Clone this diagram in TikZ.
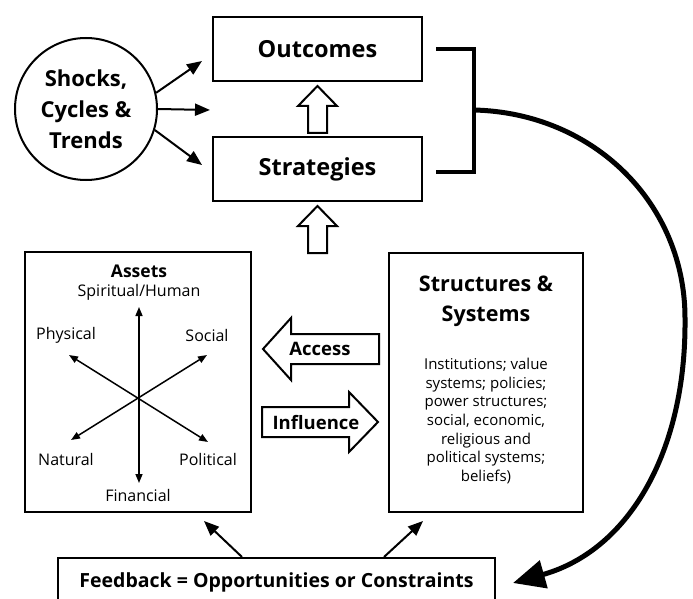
\documentclass[tikz,border=0pt]{standalone}
\usepackage{fontspec}
\setmainfont{Open Sans}
\usetikzlibrary{calc,arrows.meta}

\begin{document}
\begin{tikzpicture}[
  x=1pt, y=-1pt,
  box/.style={draw, line width=2pt, minimum width=209pt, minimum height=64pt,
              font=\bfseries\fontsize{23.5}{26}\selectfont},
  panel/.style={draw, line width=2pt},
  circ/.style={circle, draw, line width=2pt, minimum size=142pt, inner sep=0pt, align=center,
              font=\bfseries\fontsize{22}{31}\selectfont},
  lbl/.style={font=\fontsize{16}{19}\selectfont, inner sep=1pt},
  ttl/.style={font=\bfseries\fontsize{18.5}{22}\selectfont, inner sep=1pt},
  e/.style={-{Triangle[length=15pt, width=12pt]}, line width=2pt},
  dbl/.style={{Triangle[length=9pt, width=7pt]}-{Triangle[length=9pt, width=7pt]}, line width=1.5pt},
  hollow/.style={draw, fill=white, line width=2pt, line join=miter},
  brk/.style={line width=4pt},
  big/.style={-{Triangle[length=32pt, width=28pt]}, line width=5pt}
]
\useasboundingbox (0,0) rectangle (693,599);
\clip (0,0) rectangle (693,599);

\node[circ] (sct) at (86,109) {Shocks,\\Cycles \&\\Trends};
\node[box] (out) at (317.5,49) {Outcomes};
\node[box] (str) at (317.5,169) {Strategies};

\coordinate (t1) at (202,61);
\coordinate (t2) at (210,110);
\coordinate (t3) at (202,165);
\draw[e] (sct.13)  -- (t1);
\draw[e] (sct.0)   -- (t2);
\draw[e] (sct.-17) -- (t3);

\foreach \n in {out,str}
  \draw[hollow] ($(\n.south)+(0,4)$) -- ++(19.5,20) -- ++(-10,0) -- ++(0,27)
    -- ++(-19,0) -- ++(0,-27) -- ++(-10,0) -- cycle;

\draw[brk] ($(out.east)+(13,0)$) -- ++(38,0) |- ($(str.east)+(13,3)$);
\coordinate (brkmid) at ($(out.east)+(51,61)$);

% assets panel
\node[panel, minimum width=226pt, minimum height=260pt] (ast) at (138,382) {};
\node[font=\bfseries\fontsize{17.5}{20}\selectfont, inner sep=1pt] (astt) at (139,271) {Assets};
\node[lbl] (sph) at (139,292) {Spiritual/Human};
\node[lbl] (phy) at (66,335) {Physical};
\node[lbl] (soc) at (207,335) {Social};
\node[lbl] (nat) at (66,459) {Natural};
\node[lbl] (pol) at (208,459) {Political};
\node[lbl] (fin) at (138,495) {Financial};

\coordinate (a1) at (139,307);
\coordinate (a2) at (139,483);
\coordinate (a3) at (69,355);
\coordinate (a4) at (208,442);
\coordinate (a5) at (207,355);
\coordinate (a6) at (71,440);
\draw[dbl] (a1) -- (a2);
\draw[dbl] (a3) -- (a4);
\draw[dbl] (a5) -- (a6);

% structures panel
\node[panel, minimum width=194pt, minimum height=259pt] (sys) at (486,382.5) {};
\node[align=center, font=\bfseries\fontsize{21.5}{30}\selectfont] (syst) at (486,301)
  {Structures \&\\Systems};
\node[align=center, font=\fontsize{15}{18.7}\selectfont] (sysb) at (486,421)
  {Institutions; value\\systems; policies;\\power structures;\\social, economic,\\religious and\\political systems;\\beliefs)};

% access / influence
\draw[hollow] (263,349) -- ++(28,-31) -- ++(0,16) -- ++(88,0) -- ++(0,30)
  -- ++(-88,0) -- ++(0,16) -- cycle;
\node[ttl] (acc) at (320,349) {Access};
\draw[hollow] (378,422) -- ++(-29,-30) -- ++(0,15) -- ++(-87,0) -- ++(0,30)
  -- ++(87,0) -- ++(0,15) -- cycle;
\node[ttl] (inf) at (316,423) {Influence};

% feedback
\node[panel, minimum width=437pt, minimum height=48pt, font=\bfseries\fontsize{19.5}{22}\selectfont]
  (fb) at (276.5,582) {Feedback = Opportunities or Constraints};
\draw[e] ($(fb.north west)+(185,0)$) -- ($(ast.south east)+(-48,8)$);
\draw[e] ($(fb.north west)+(327,0)$) -- ($(sys.south west)+(35,8)$);

\draw[big] (brkmid) .. controls (595,113) and (686,205) .. (685,320)
  .. controls (686,450) and (630,550) .. ($(fb.east)+(17,1)$);
\end{tikzpicture}
\end{document}
